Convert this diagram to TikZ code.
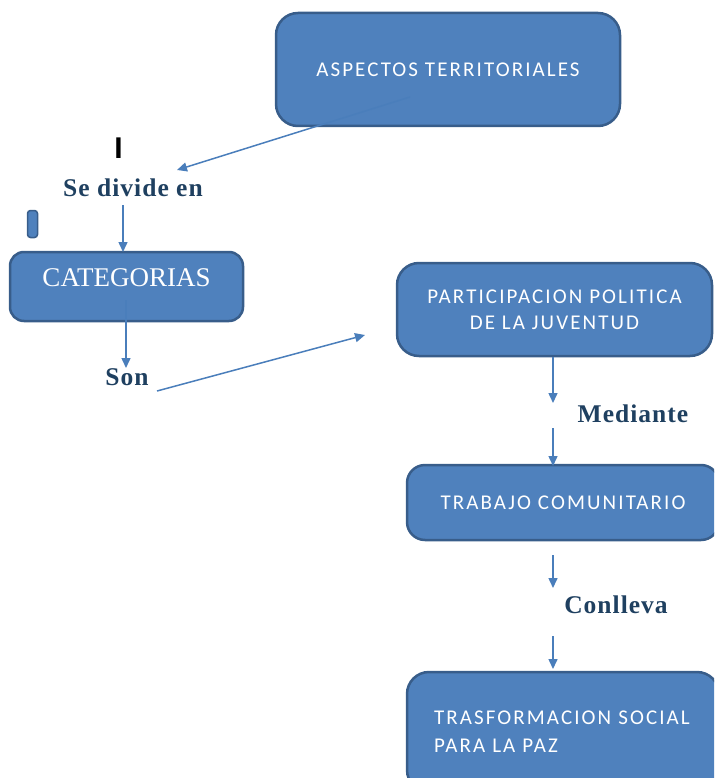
\documentclass[tikz,border=0pt]{standalone}
\usepackage{fontspec}
\setmainfont{Liberation Serif}
\newfontfamily\boxfont[LetterSpace=10]{Carlito}
\newfontfamily\labfont[LetterSpace=4]{Liberation Serif}
\newfontfamily\barfont{Liberation Sans}
\usetikzlibrary{arrows.meta}
\definecolor{boxfill}{HTML}{4F81BD}
\definecolor{boxline}{HTML}{385D8A}
\definecolor{arrowc}{HTML}{4A7EBB}
\definecolor{labc}{HTML}{1F4060}
\tikzset{
  cbox/.style={draw=boxline, fill=boxfill, line width=2.5pt, rounded corners=22pt,
    text=white, inner sep=0pt},
  lab/.style={text=labc, font=\labfont\bfseries\fontsize{25.5}{27}\selectfont, inner sep=0pt},
  conn/.style={draw=arrowc, line width=1.5pt, -{Triangle[length=10pt,width=9pt]}}
}
\begin{document}
\begin{tikzpicture}[x=1pt,y=-1pt]
\useasboundingbox (0,0) rectangle (714,778);
\clip (0,0) rectangle (714,778);
% boxes
\node[cbox, minimum width=344pt, minimum height=113pt, font=\boxfont\fontsize{21}{24}\selectfont]
  (asp) at (448,69.5) {ASPECTOS TERRITORIALES};
\node[cbox, rounded corners=14pt, minimum width=233pt, minimum height=69pt, text depth=17pt,
  font=\fontsize{27}{30}\selectfont] (cat) at (126.5,286.5) {CATEGORIAS};
\node[cbox, minimum width=315pt, minimum height=93pt, align=center,
  font=\boxfont\fontsize{21}{26}\selectfont] (par) at (554.5,309.5)
  {PARTICIPACION POLITICA\\DE LA JUVENTUD};
\node[cbox, rounded corners=18pt, minimum width=312pt, minimum height=75pt,
  font=\boxfont\fontsize{21}{24}\selectfont] (tra) at (563,502.5) {TRABAJO COMUNITARIO};
\node[cbox, minimum width=312pt, minimum height=120pt, align=left, text width=258pt,
  font=\boxfont\fontsize{21}{28}\selectfont] (tsf) at (563,732) {TRASFORMACION SOCIAL\\PARA LA PAZ};
\node[cbox, rounded corners=3pt, line width=1.5pt, minimum width=10pt, minimum height=27pt] (small) at (32.5,224) {};
% labels
\node[font=\barfont\bfseries\fontsize{30}{32}\selectfont, inner sep=0pt] (bar) at (118.5,148.5) {I};
\node[lab] (div) at (133,188) {Se divide en};
\node[lab] (son) at (127,377) {Son};
\node[lab] (med) at (633,414) {Mediante};
\node[lab] (con) at (616,605) {Conlleva};
% arrow endpoints
\coordinate (a1s) at (410,97);   \coordinate (a1e) at (177,170);
\coordinate (a2s) at (123,205);  \coordinate (a2e) at (123,252);
\coordinate (a3s) at (126,300);  \coordinate (a3e) at (126,368);
\coordinate (a4s) at (157,391);  \coordinate (a4e) at (365,335);
\coordinate (a5s) at (553,357);  \coordinate (a5e) at (553,403);
\coordinate (a6s) at (553,428);  \coordinate (a6e) at (553,466);
\coordinate (a7s) at (553,555);  \coordinate (a7e) at (553,588);
\coordinate (a8s) at (553,636);  \coordinate (a8e) at (553,669);
\draw[conn] (a1s) -- (a1e);
\draw[conn] (a2s) -- (a2e);
\draw[conn] (a3s) -- (a3e);
\draw[conn] (a4s) -- (a4e);
\draw[conn] (a5s) -- (a5e);
\draw[conn] (a6s) -- (a6e);
\draw[conn] (a7s) -- (a7e);
\draw[conn] (a8s) -- (a8e);
\end{tikzpicture}
\end{document}
